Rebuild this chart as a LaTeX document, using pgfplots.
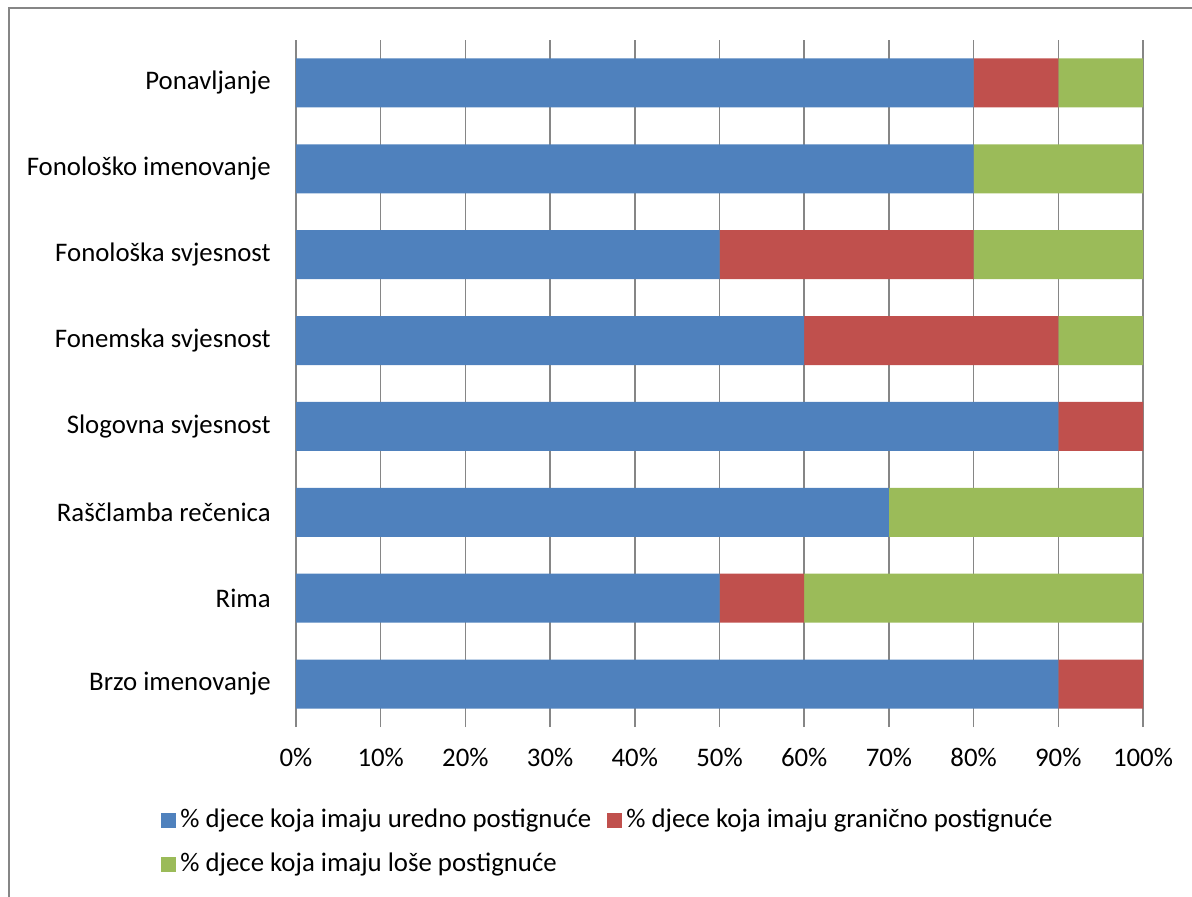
\documentclass[border=0pt]{standalone}
\usepackage{pgfplots}
\pgfplotsset{compat=1.18}
\usepackage{fontspec}
\setmainfont{Carlito}
\definecolor{cblue}{HTML}{4F81BD}
\definecolor{cred}{HTML}{C0504D}
\definecolor{cgreen}{HTML}{9BBB59}
\definecolor{cgrid}{HTML}{868686}
\begin{document}
\fontsize{13.4pt}{16pt}\selectfont
\begin{tikzpicture}[x=0.5pt,y=0.5pt]
\path[use as bounding box] (0,0) rectangle (1192,896);
\draw[color=cgrid, line width=1pt] (8.5,-5) -- (8.5,887.5) -- (1200,887.5);
\begin{axis}[
  at={(148pt,84.5pt)}, anchor=south west,
  scale only axis, width=423.5pt, height=343.5pt,
  xbar stacked, bar width=24.5pt,
  xmin=0, xmax=100, ymin=-0.5, ymax=7.5,
  ytick={0,...,7},
  yticklabels={Brzo imenovanje, Rima, Raščlamba rečenica, Slogovna svjesnost, Fonemska svjesnost, Fonološka svjesnost, Fonološko imenovanje, Ponavljanje},
  xtick={0,10,...,100},
  xticklabels={0\%,10\%,20\%,30\%,40\%,50\%,60\%,70\%,80\%,90\%,100\%},
  axis line style={draw=none},
  major tick length=0pt,
  xmajorgrids,
  grid style={color=cgrid, line width=0.75pt},
  ticklabel style={font=\fontsize{13.4pt}{16pt}\selectfont},
  y tick label style={xshift=-8pt},
  x tick label style={yshift=-6pt},
  legend style={at={(-0.1594,-0.1135)}, anchor=north west, draw=none, fill=none,
    font=\fontsize{13.4pt}{16pt}\selectfont, inner sep=0pt,
    nodes={inner sep=2pt}, row sep=6.5pt,
    /tikz/every even column/.append style={column sep=6pt}},
  legend columns=2,
  legend cell align=left,
  legend image code/.code={\fill[#1] (0pt,-3.75pt) rectangle (7.5pt,3.75pt);},
]
\addplot[fill=cblue, draw=none] coordinates {(90,0) (50,1) (70,2) (90,3) (60,4) (50,5) (80,6) (80,7)};
\addplot[fill=cred, draw=none] coordinates {(10,0) (10,1) (0,2) (10,3) (30,4) (30,5) (0,6) (10,7)};
\addplot[fill=cgreen, draw=none] coordinates {(0,0) (40,1) (30,2) (0,3) (10,4) (20,5) (20,6) (10,7)};
\legend{\% djece koja imaju uredno postignuće, \% djece koja imaju granično postignuće, \% djece koja imaju loše postignuće}
\end{axis}
\end{tikzpicture}
\end{document}
